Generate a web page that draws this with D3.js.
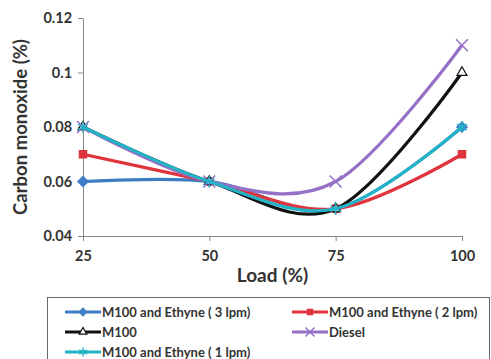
<!DOCTYPE html>
<html>
<head>
<meta charset="utf-8">
<script src="https://cdn.jsdelivr.net/npm/d3@7"></script>
<style>
  body { margin: 0; background: #fff; }
  text { font-family: Lato, "Open Sans", sans-serif; font-weight: bold; fill: #333; }
</style>
</head>
<body>
<div id="chart"></div>
<script>
const loads = [25, 50, 75, 100]
const yTicks = [0.04, 0.06, 0.08, 0.1, 0.12]
const ethyne3 = [0.06, 0.06, 0.05, 0.08]
const ethyne2 = [0.07, 0.06, 0.05, 0.07]
const m100 = [0.08, 0.06, 0.05, 0.10]
const diesel = [0.08, 0.06, 0.06, 0.11]
const ethyne1 = [0.08, 0.06, 0.05, 0.08]

const series = [
    {name: "M100 and Ethyne ( 3 lpm)", values: ethyne3, color: "#3d7dc8", marker: "diamond"},
    {name: "M100 and Ethyne ( 2 lpm)", values: ethyne2, color: "#e0343c", marker: "square"},
    {name: "M100", values: m100, color: "#111", marker: "triangle"},
    {name: "Diesel", values: diesel, color: "#9470c6", marker: "x"},
    {name: "M100 and Ethyne ( 1 lpm)", values: ethyne1, color: "#22b3c6", marker: "star"}
]

const width = 491, height = 359
const margin = {top: 18, right: 29, bottom: 123, left: 83}

const svg = d3.select("#chart").append("svg")
    .attr("width", width).attr("height", height)

const x = d3.scaleLinear().domain([25, 100]).range([margin.left, width - margin.right])
const y = d3.scaleLinear().domain([0.04, 0.12]).range([height - margin.bottom, margin.top])

// axes
const xAxis = svg.append("g")
    .attr("transform", "translate(0," + y(0.04) + ")")
    .call(d3.axisBottom(x).tickValues(loads).tickSize(5).tickSizeOuter(0))
xAxis.select(".domain").attr("stroke", "#888")
xAxis.selectAll(".tick line").attr("stroke", "#888")
xAxis.selectAll("text").attr("font-size", 14.5).attr("dy", "1.15em").attr("fill", "#333")

const yAxis = svg.append("g")
    .attr("transform", "translate(" + x(25) + ",0)")
    .call(d3.axisLeft(y).tickValues(yTicks).tickSize(5).tickSizeOuter(0)
        .tickFormat(d => d3.format("")(+d.toFixed(2))))
yAxis.select(".domain").attr("stroke", "#888")
yAxis.selectAll(".tick line").attr("stroke", "#888")
yAxis.selectAll("text").attr("font-size", 14.5).attr("fill", "#333").attr("dx", "-0.2em")

svg.append("text")
    .attr("transform", "translate(27," + ((y(0.04) + y(0.12)) / 2) + ") rotate(-90)")
    .attr("text-anchor", "middle").attr("font-size", 18.5)
    .text("Carbon monoxide (%)")

svg.append("text")
    .attr("x", (x(25) + x(100)) / 2).attr("y", 282)
    .attr("text-anchor", "middle").attr("font-size", 19)
    .text("Load (%)")

// lines
const line = d3.line()
    .x((d, i) => x(loads[i]))
    .y(d => y(d))
    .curve(d3.curveCardinal.tension(0))

function drawMarker(g, type, cx, cy, color, s) {
    if (type === "diamond") {
        g.append("path").attr("d", d3.symbol(d3.symbolDiamond2, s * s * 1.3)())
            .attr("transform", "translate(" + cx + "," + cy + ")").attr("fill", color)
    } else if (type === "square") {
        g.append("rect").attr("x", cx - s / 2).attr("y", cy - s / 2)
            .attr("width", s).attr("height", s).attr("fill", color)
    } else if (type === "triangle") {
        g.append("path").attr("d", d3.symbol(d3.symbolTriangle2, s * s)())
            .attr("transform", "translate(" + cx + "," + cy + ")")
            .attr("fill", "#fff").attr("stroke", color).attr("stroke-width", 1.2)
    } else if (type === "x") {
        g.append("path").attr("d", d3.symbol(d3.symbolX, s * s * 1.3)())
            .attr("transform", "translate(" + cx + "," + cy + ")")
            .attr("fill", "none").attr("stroke", color).attr("stroke-width", 1.5)
    } else if (type === "star") {
        g.append("path").attr("d", d3.symbol(d3.symbolAsterisk, s * s * 1.3)())
            .attr("transform", "translate(" + cx + "," + cy + ")")
            .attr("fill", "none").attr("stroke", color).attr("stroke-width", 1.5)
    }
}

series.forEach(s => {
    const g = svg.append("g")
    g.append("path").datum(s.values)
        .attr("d", line).attr("fill", "none")
        .attr("stroke", s.color).attr("stroke-width", 3.2)
    s.values.forEach((v, i) => drawMarker(g, s.marker, x(loads[i]), y(v), s.color, 8.5))
})

// legend
const legend = svg.append("g")
legend.append("rect")
    .attr("x", 47.5).attr("y", 297.5).attr("width", 442).attr("height", 70)
    .attr("fill", "#fff").attr("stroke", "#666")

const legPos = [[65, 312], [292, 312], [65, 332], [292, 332], [65, 352]]
series.forEach((s, i) => {
    const [lx, ly] = legPos[i]
    const g = legend.append("g")
    g.append("line").attr("x1", lx).attr("x2", lx + 36).attr("y1", ly).attr("y2", ly)
        .attr("stroke", s.color).attr("stroke-width", 3)
    drawMarker(g, s.marker, lx + 18, ly, s.color, 6.5)
    g.append("text").attr("x", lx + 37).attr("y", ly).attr("dy", "0.35em")
        .attr("font-size", 13).text(s.name)
})
</script>
</body>
</html>
